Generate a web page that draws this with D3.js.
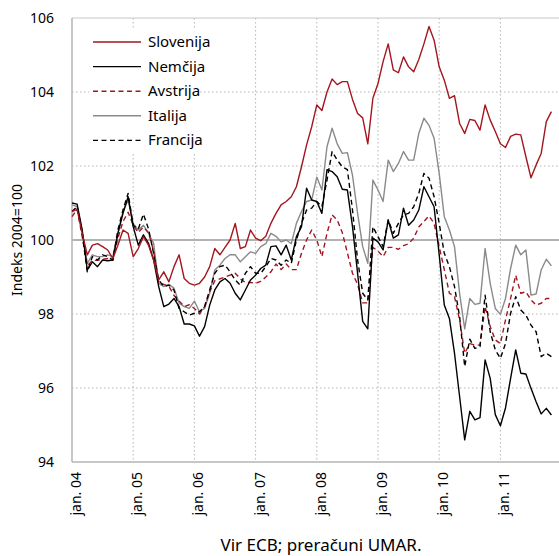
<!DOCTYPE html>
<html>
<head>
<meta charset="utf-8">
<script src="https://cdn.jsdelivr.net/npm/d3@7"></script>
<style>
  body { margin: 0; background: #fff; }
  svg { display: block; font-family: "Noto Sans", "Open Sans", sans-serif; }
</style>
</head>
<body>
<script>
var width = 559;
var height = 556;

// months from jan 2004 to nov 2011
var yearLabels = ["jan. 04", "jan. 05", "jan. 06", "jan. 07", "jan. 08", "jan. 09", "jan. 10", "jan. 11"];
var yTicks = [94, 96, 98, 100, 102, 104, 106];

var slovenija = [100.77, 100.83, 100.18, 99.6, 99.86, 99.9, 99.82, 99.73, 99.5, 99.86, 100.27, 100.18,
    99.55, 99.77, 100.09, 99.86, 99.46, 98.92, 99.14, 98.87, 99.28, 99.6, 98.96, 98.83,
    98.78, 98.83, 99.0, 99.28, 99.77, 99.6, 99.8, 100.0, 100.45, 99.77, 99.82, 100.27,
    100.05, 99.98, 100.1, 100.45, 100.72, 100.95, 101.04, 101.17, 101.44, 101.98, 102.57, 103.06,
    103.65, 103.5, 104.0, 104.35, 104.2, 104.28, 104.28, 103.8, 103.42, 103.3, 102.6, 103.83,
    104.23, 104.82, 105.3, 104.6, 104.52, 104.95, 104.68, 104.55, 104.88, 105.3, 105.77, 105.4,
    104.68, 104.32, 103.83, 103.9, 103.15, 102.88, 103.26, 103.23, 102.97, 103.65, 103.24, 102.93,
    102.6, 102.5, 102.8, 102.86, 102.84, 102.25, 101.68, 102.03, 102.34, 103.2, 103.47];

var nemcija = [101.0, 100.97, 100.27, 99.19, 99.41, 99.28, 99.46, 99.44, 99.46, 100.18, 100.72, 101.17,
    100.36, 99.86, 100.14, 99.91, 99.46, 98.74, 98.2, 98.27, 98.42, 98.2, 97.73, 97.73,
    97.68, 97.4, 97.66, 98.24, 98.65, 98.87, 98.96, 98.83, 98.56, 98.38, 98.65, 98.92,
    99.05, 99.23, 99.32, 99.82, 99.84, 99.6, 99.86, 99.46, 100.09, 100.36, 101.4, 101.08,
    101.04, 100.72, 101.9, 101.85, 101.71, 101.37, 101.35, 100.36, 99.1, 97.8, 97.6, 100.05,
    99.95, 99.73, 100.54, 100.05, 100.14, 100.86, 100.4, 100.54, 100.81, 101.44, 101.17, 100.9,
    99.6, 98.24, 97.88, 96.94, 95.77, 94.6, 95.37, 95.14, 95.2, 96.76, 96.26, 95.28,
    94.98, 95.46, 96.26, 97.03, 96.4, 96.38, 95.99, 95.63, 95.3, 95.45, 95.27];

var avstrija = [100.63, 100.83, 100.1, 99.3, 99.45, 99.45, 99.48, 99.5, 99.45, 100.05, 100.5, 100.75,
    100.4, 100.2, 100.35, 100.2, 99.7, 98.85, 98.8, 98.75, 98.5, 98.35, 98.2, 98.25,
    98.15, 98.0, 98.2, 98.6, 98.9, 98.95, 99.0, 99.05, 99.1, 98.95, 98.85, 98.85,
    98.83, 98.88, 99.0, 99.14, 99.35, 99.2, 99.35, 99.2, 99.2, 99.64, 100.0, 100.27,
    100.0, 99.55, 100.18, 100.68, 100.54, 100.2, 99.65, 99.1, 98.8, 98.3, 98.3, 99.8,
    99.7, 99.55, 99.8, 99.8, 99.75, 99.85, 99.9, 100.05, 100.35, 100.5, 100.65, 100.45,
    99.82, 99.2, 98.56, 98.47, 97.84, 96.94, 97.2, 97.16, 97.16, 98.2, 97.66, 97.3,
    97.2, 97.84, 98.42, 99.05, 98.56, 98.6, 98.38, 98.24, 98.29, 98.42, 98.42];

var italija = [100.95, 100.9, 100.23, 99.37, 99.6, 99.55, 99.55, 99.6, 99.55, 100.18, 100.77, 101.08,
    100.45, 100.27, 100.4, 100.18, 99.91, 98.83, 98.74, 98.8, 98.7, 98.29, 98.2, 98.15,
    98.35, 98.06, 98.15, 98.56, 99.19, 99.32, 99.5, 99.6, 99.6, 99.41, 99.55, 99.68,
    99.64, 99.82, 99.9, 100.18, 100.1, 99.95, 100.0, 99.9, 100.45, 100.77, 101.04, 101.08,
    101.7, 101.35, 102.52, 103.02, 102.6, 102.34, 102.36, 101.75, 100.72, 99.82, 99.37, 101.62,
    101.35, 101.04, 102.16, 101.85, 102.07, 102.39, 102.16, 102.16, 102.88, 103.29, 103.1, 102.75,
    101.8, 100.63, 100.27, 99.82, 98.56, 97.6, 98.42, 98.26, 98.29, 99.77, 98.83, 98.15,
    97.99, 98.42, 99.23, 99.86, 99.6, 99.73, 98.51, 98.54, 99.19, 99.48, 99.3];

var francija = [100.77, 100.9, 100.18, 99.14, 99.55, 99.46, 99.6, 99.55, 99.46, 100.27, 100.81, 101.26,
    100.4, 100.3, 100.7, 100.3, 99.64, 98.92, 98.74, 98.78, 98.65, 98.15, 98.06, 97.97,
    98.02, 98.06, 98.2, 98.65, 99.1, 99.28, 99.32, 99.14, 98.92, 98.78, 99.1, 99.28,
    99.1, 99.1, 99.28, 99.5, 99.46, 99.32, 99.46, 99.37, 100.0, 100.45, 100.81, 100.86,
    101.04, 100.9, 101.62, 102.39, 102.16, 101.98, 101.9, 100.81, 99.46, 98.56, 98.38, 100.36,
    100.09, 99.82, 100.54, 100.18, 100.45, 100.68, 100.72, 100.9, 101.26, 101.8, 101.67, 101.17,
    100.45, 99.64, 99.28, 98.74, 97.93, 96.58, 97.32, 97.07, 97.12, 98.51, 97.52, 97.03,
    96.8, 97.2, 98.02, 98.47, 98.11, 97.97, 97.7, 97.52, 96.85, 96.94, 96.85];

var series = [
    {name: "Slovenija", values: slovenija, color: "#a3161f", dash: null},
    {name: "Nemčija", values: nemcija, color: "#000000", dash: null},
    {name: "Avstrija", values: avstrija, color: "#a3161f", dash: "5,3.5"},
    {name: "Italija", values: italija, color: "#8a8a8a", dash: null},
    {name: "Francija", values: francija, color: "#000000", dash: "5,3.5"}
];

var margin = {left: 72, top: 18};
var plotH = 444;

var svg = d3.select("body").append("svg").attr("width", width).attr("height", height);

var x = d3.scaleLinear().domain([0, 96]).range([margin.left, margin.left + 96 * 5.1]);
var y = d3.scaleLinear().domain([94, 106]).range([margin.top + plotH, margin.top]);

// gridlines
svg.append("g")
    .selectAll("line")
    .data(yTicks.filter(function (d) { return d != 100 && d != 94 && d != 106; }))
    .enter().append("line")
    .attr("x1", x(0)).attr("x2", width)
    .attr("y1", function (d) { return y(d); })
    .attr("y2", function (d) { return y(d); })
    .attr("stroke", "#b5b5b5")
    .attr("stroke-width", 1)
    .attr("stroke-dasharray", "1.5,2.5");

svg.append("g")
    .selectAll("line")
    .data(yearLabels.slice(1))
    .enter().append("line")
    .attr("x1", function (d, i) { return x((i + 1) * 12); })
    .attr("x2", function (d, i) { return x((i + 1) * 12); })
    .attr("y1", y(106)).attr("y2", y(94))
    .attr("stroke", "#b5b5b5")
    .attr("stroke-width", 1)
    .attr("stroke-dasharray", "1.5,2.5");

// frame
svg.append("line")
    .attr("x1", x(0)).attr("x2", width).attr("y1", y(106)).attr("y2", y(106))
    .attr("stroke", "#c8c8c8").attr("stroke-width", 1);
svg.append("line")
    .attr("x1", x(0)).attr("x2", width).attr("y1", y(94)).attr("y2", y(94))
    .attr("stroke", "#b5b5b5").attr("stroke-width", 1.5);
svg.append("line")
    .attr("x1", x(0)).attr("x2", x(0)).attr("y1", y(106)).attr("y2", y(94))
    .attr("stroke", "#b5b5b5").attr("stroke-width", 1.5);

// base line at 100
svg.append("line")
    .attr("x1", x(0)).attr("x2", width).attr("y1", y(100)).attr("y2", y(100))
    .attr("stroke", "#b3b3b3").attr("stroke-width", 2);

// y axis labels
var yAxis = d3.axisLeft(y).tickValues(yTicks).tickSize(0).tickPadding(0);
svg.append("g")
    .attr("transform", "translate(" + 54 + ",0)")
    .call(yAxis)
    .call(function (g) { g.select(".domain").remove(); })
    .selectAll("text")
    .attr("font-family", "Noto Sans, sans-serif")
    .attr("font-size", "14px")
    .attr("fill", "#000");

// x axis labels
svg.append("g")
    .selectAll("text")
    .data(yearLabels)
    .enter().append("text")
    .attr("transform", function (d, i) {
        return "translate(" + (x(i * 12) + 9) + "," + 472 + ") rotate(-90)";
    })
    .attr("text-anchor", "end")
    .attr("font-size", "14px")
    .text(function (d) { return d; });

// axis title
svg.append("text")
    .attr("transform", "translate(22," + y(100) + ") rotate(-90)")
    .attr("text-anchor", "middle")
    .attr("font-size", "14px")
    .text("Indeks 2004=100");

// source
svg.append("text")
    .attr("x", 321).attr("y", 551)
    .attr("text-anchor", "middle")
    .attr("font-size", "17px")
    .text("Vir ECB; preračuni UMAR.");

// lines
var line = d3.line()
    .x(function (d, i) { return x(i); })
    .y(function (d) { return y(d); });

var drawOrder = [3, 2, 4, 1, 0];
svg.append("g")
    .selectAll("path")
    .data(drawOrder.map(function (k) { return series[k]; }))
    .enter().append("path")
    .attr("d", function (d) { return line(d.values); })
    .attr("fill", "none")
    .attr("stroke", function (d) { return d.color; })
    .attr("stroke-width", 1.4)
    .attr("stroke-linejoin", "round")
    .attr("stroke-dasharray", function (d) { return d.dash; });

// legend
var legend = svg.append("g")
    .selectAll("g")
    .data(series)
    .enter().append("g")
    .attr("transform", function (d, i) { return "translate(93," + (42 + i * 24.6) + ")"; });

legend.append("rect")
    .attr("x", -4).attr("y", -12).attr("width", 110).attr("height", 25)
    .attr("fill", "#fff");

legend.append("line")
    .attr("x1", 0).attr("x2", 48)
    .attr("stroke", function (d) { return d.color; })
    .attr("stroke-width", 1.4)
    .attr("stroke-dasharray", function (d) { return d.dash; });

legend.append("text")
    .attr("x", 55).attr("y", 5)
    .attr("font-size", "15px")
    .text(function (d) { return d.name; });
</script>
</body>
</html>
